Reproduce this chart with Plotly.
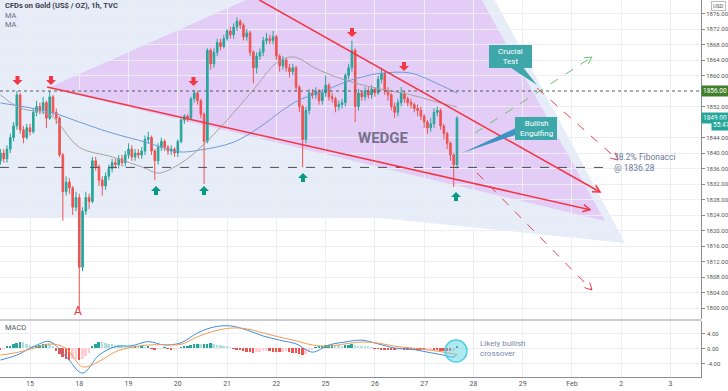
import math
import plotly.graph_objects as go

# ---------------- data ----------------
day_labels = ["15", "18", "19", "20", "21", "22", "25", "26", "27", "28", "29", "Feb", "2", "3"]
candles_per_day = 15
start_day = -0.6
first_open = 1838.0

closes = [1840, 1838.5, 1841, 1844, 1847, 1855, 1846, 1844, 1846.5, 1845.5,
          1850.5, 1852, 1851, 1853, 1849, 1854.5, 1850.5, 1849, 1839.5, 1830,
          1832.5, 1831, 1826, 1828.5, 1810.5, 1825, 1828.5, 1827.5, 1838, 1836.5,
          1833, 1831.5, 1834, 1836, 1837.5, 1837, 1838.5, 1837.5, 1839.5, 1841,
          1839, 1840, 1839.5, 1840.5, 1843.5, 1844, 1840.5, 1838, 1841.5, 1843,
          1841.5, 1840.5, 1841, 1840, 1843, 1848.5, 1849.5, 1849, 1854, 1855.5,
          1853.5, 1850, 1843, 1866.5, 1863, 1866, 1868.5, 1867.5, 1869.5, 1871.5,
          1870.5, 1872.5, 1874, 1873, 1870, 1871, 1866, 1862, 1865, 1866,
          1869, 1869.5, 1869, 1870, 1865, 1862.5, 1864, 1862, 1861, 1862,
          1857, 1852, 1843.5, 1851, 1855.5, 1855, 1856, 1853.5, 1855.5, 1857.5,
          1854.5, 1854, 1852, 1852.5, 1853, 1860, 1862, 1866.5, 1852, 1855.5,
          1854.5, 1856, 1855, 1856.5, 1855.5, 1859, 1860.5, 1856, 1855, 1852,
          1850.5, 1853, 1855.5, 1854, 1853, 1852.5, 1851.5, 1851, 1849.5, 1848,
          1846.5, 1847.5, 1850.5, 1851, 1847, 1845, 1842.5, 1839.5, 1837, 1849]

highs = [1841, 1841, 1842, 1845, 1848, 1856, 1855.5, 1847, 1847.5, 1847.5,
         1851.5, 1853.5, 1853, 1854.5, 1853.5, 1856, 1855, 1851.5, 1849.5, 1840,
         1834, 1833.5, 1831.5, 1830, 1829.5, 1826, 1830, 1829.5, 1839, 1839,
         1837, 1834, 1835, 1837, 1838.5, 1838.5, 1839.5, 1839.5, 1840.5, 1842.5,
         1842, 1841, 1841, 1841.5, 1844.5, 1845.5, 1844.5, 1841, 1842.5, 1844,
         1843.5, 1842, 1842, 1841.5, 1843.5, 1849, 1850, 1850, 1854.5, 1856.3,
         1856, 1854, 1850.5, 1867, 1867, 1867, 1869.5, 1869.5, 1870.5, 1872,
         1872.5, 1873.5, 1875, 1874.5, 1873.5, 1872, 1871.5, 1866.5, 1866, 1867,
         1870, 1871, 1870.5, 1871.5, 1870.5, 1865.5, 1865, 1864.5, 1863, 1863,
         1862.5, 1857.5, 1852.5, 1852, 1856.5, 1856.5, 1857, 1856.5, 1856.5, 1860,
         1858, 1855.5, 1854.5, 1853.5, 1854, 1860.5, 1863, 1869, 1867, 1856.5,
         1856, 1857, 1857, 1857.5, 1857, 1860, 1862, 1861, 1857, 1855.5,
         1853, 1854, 1857, 1856, 1854.5, 1854, 1853, 1852.5, 1852, 1850,
         1848.5, 1849, 1851.5, 1852, 1851.5, 1847.5, 1845.5, 1843, 1840, 1849.5]

lows = [1837, 1837.5, 1837.5, 1840, 1843, 1846, 1845, 1842.5, 1843.5, 1844.5,
        1845, 1849.5, 1850, 1850, 1846.5, 1848.5, 1849.5, 1847.5, 1839, 1822.5,
        1829, 1829.5, 1824, 1825, 1799.5, 1809.5, 1824, 1825.5, 1827, 1835.5,
        1831.5, 1829, 1830.5, 1833, 1835, 1836, 1836, 1836.5, 1836.5, 1838.5,
        1838, 1838, 1838.5, 1838.5, 1839.5, 1842.5, 1839.5, 1833, 1837, 1840.5,
        1840.5, 1839.5, 1839.5, 1839, 1839, 1842.5, 1847.5, 1848, 1848.5, 1853,
        1852.5, 1849, 1832, 1842.5, 1861.5, 1862, 1865, 1866.5, 1867, 1869,
        1869.5, 1869.5, 1871.5, 1872, 1869, 1869, 1865, 1858, 1860.5, 1864,
        1865, 1868, 1868, 1868, 1864, 1861, 1861.5, 1861, 1859.5, 1860,
        1856, 1850.5, 1836.3, 1842.5, 1850, 1854, 1854, 1852.5, 1852.5, 1854.5,
        1853.5, 1853, 1850.5, 1851, 1851.5, 1852, 1859, 1861, 1848, 1851,
        1853.5, 1853.5, 1854, 1854, 1854.5, 1855, 1858, 1855, 1853.5, 1851,
        1849, 1849.5, 1852, 1853, 1852, 1851.5, 1850.5, 1849.5, 1848.5, 1846.5,
        1845, 1845.5, 1846.5, 1849.5, 1846, 1843.5, 1841, 1838, 1831.2, 1836]

blue_ma_idx = [0, 15, 24, 33, 45, 54, 61, 71, 79, 86, 91, 97, 105, 110, 116, 125, 134, 139]
blue_ma_val = [1852.9, 1850.6, 1848.0, 1845.4, 1842.6, 1840.3, 1840.8, 1842.8, 1846.7,
               1851.1, 1853.7, 1855.5, 1858.3, 1859.6, 1860.6, 1860.6, 1857.5, 1855.5]

gray_ma_idx = [0, 6, 15, 24, 34, 44, 48, 55, 61, 69, 77, 84, 89, 97, 105, 114, 125, 134, 139]
gray_ma_val = [1855.0, 1851.6, 1849.8, 1841.5, 1839.0, 1836.1, 1834.8, 1837.4, 1841.5,
               1848.5, 1856.3, 1863.2, 1864.8, 1861.4, 1858.8, 1856.8, 1855.0, 1852.9, 1851.9]

macd_idx = [0, 5, 10, 15, 20, 25, 30, 35, 40, 45, 50, 55, 60, 65, 70, 75, 80, 85, 90,
            95, 100, 105, 110, 115, 120, 125, 130, 135, 138, 139]
macd_line = [-3.2, -1.9, 0.35, 1.7, -2.3, -6.7, -1.9, 0.35, 0.6, 1.7, 0.8, 1.4, 4.0, 5.6,
             5.9, 4.8, 3.2, 2.1, 1.1, -1.1, 0.8, 1.6, 2.1, 1.1, 0.0, -0.3, -1.1, -1.9, -2.4, -1.6]
signal_line = [-1.9, -1.2, -0.1, 1.1, -0.1, -5.0, -3.6, -1.0, 0.2, 0.8, 0.9, 1.0, 3.0, 4.5,
               5.3, 5.1, 4.0, 2.9, 1.9, 0.8, 0.5, 1.1, 1.6, 1.3, 0.5, 0.0, -0.5, -1.1, -1.6, -1.7]
hist = [-0.4, -0.2,
        0.3, 0.6, 1.0, 1.3, 1.6, 1.5, 1.2, 0.9, 0.6,
        0.6, 0.8, 1.0, 1.1, 1.0, 0.6,
        -0.8, -1.6, -2.4,
        -2.8, -3.2, -3.0, -2.8, -3.2, -3.0, -2.2,
        -1.2, 0.6,
        1.2, 1.6, 1.5,
        1.3, 1.1, 1.0, 0.9, 0.8, 0.7, 0.6, 0.5, 0.4, 0.4, 0.3, 0.3,
        0.2, 0.3, -0.2, -0.3, -0.2, -0.1, 0.1, -0.2, -0.3, -0.2, -0.1, 0.2,
        0.4, 0.6, 0.8, 1.0, 1.1, 1.0,
        1.0, 1.2, 1.3, 1.1, 0.9, 0.7, 0.5, 0.4, 0.2,
        -0.2, -0.4, -0.6, -0.8, -1.0, -1.1, -1.2, -1.1, -1.0, -0.9,
        -0.8, -0.9, -1.0, -1.1, -1.1, -1.0, -0.9, -1.0, -1.2, -1.4, -1.6, -1.8,
        -1.5, -1.0, -0.5, 0.1, 0.4, 0.6, 0.7,
        0.8, 0.9, 0.8, 0.7, 0.6, 0.7, 0.9, 1.0, 0.8, 0.6, 0.5, 0.4, 0.3,
        0.1, -0.1, -0.2, -0.3, -0.4, -0.4, -0.5, -0.5, -0.4, -0.3, -0.3, -0.4, -0.4,
        -0.5, -0.5, -0.6, -0.6, -0.5, -0.4, -0.5, -0.6, -0.7, -0.8,
        -0.9, -0.9, -0.8, 0.3]

price_ticks = [1800, 1804, 1808, 1812, 1816, 1820, 1824, 1828, 1832, 1836, 1840, 1844,
               1852, 1860, 1864, 1868, 1872, 1876]
macd_ticks = [-4, 0, 4]
macd_tick_text = ["-4.00", "0.00", "4.00"]
fib_level = 1836.28
resistance_level = 1856.00
last_price = 1849.00

# ---------------- geometry helpers (pixel -> axis units, for drawings) ----------------
W, H = 728, 391
ML, MR, MT, MB = 0, 27, 0, 14
PW, PH = W - ML - MR, H - MT - MB


def X(px):
    return (px - 30) / 49.27


def Y(py):
    return 1872 - (py - 29) / 3.875


def YM(py):
    return (348 - py) / 3.75


def PXp(px):
    return px / PW


def PYp(py):
    return (PH - py) / PH


def idx_x(i):
    return start_day + i / candles_per_day


FONT = "Roboto"
RED = "#f23645"
GREEN_ARW = "#089981"
TEAL = "#3ea7aa"

fig = go.Figure()

x_c = [idx_x(i) for i in range(len(closes))]
opens = [first_open] + closes[:-1]

fig.add_trace(go.Candlestick(
    x=x_c, open=opens, high=highs, low=lows, close=closes,
    increasing=dict(line=dict(color="#26a69a", width=1), fillcolor="#26a69a"),
    decreasing=dict(line=dict(color="#ef5350", width=1), fillcolor="#ef5350"),
    whiskerwidth=0, showlegend=False, hoverinfo="skip", xaxis="x", yaxis="y"))

fig.add_trace(go.Scatter(x=[idx_x(i) for i in blue_ma_idx], y=blue_ma_val, mode="lines",
                         line=dict(color="#6f9bd8", width=1, shape="spline"),
                         showlegend=False, hoverinfo="skip", xaxis="x", yaxis="y"))
fig.add_trace(go.Scatter(x=[idx_x(i) for i in gray_ma_idx], y=gray_ma_val, mode="lines",
                         line=dict(color="#a3a3a3", width=1, shape="spline"),
                         showlegend=False, hoverinfo="skip", xaxis="x", yaxis="y"))

hcols = []
for i, v in enumerate(hist):
    prev = hist[i - 1] if i > 0 else 0
    if v >= 0:
        hcols.append("#26a69a" if v >= prev else "#b2dfdb")
    else:
        hcols.append("#ef5350" if v <= prev else "#ffcdd2")

fig.add_trace(go.Bar(x=x_c, y=hist, marker=dict(color=hcols, line=dict(width=0)),
                     width=0.6 / candles_per_day, showlegend=False, hoverinfo="skip",
                     xaxis="x2", yaxis="y2"))
fig.add_trace(go.Scatter(x=[idx_x(i) for i in macd_idx], y=macd_line, mode="lines",
                         line=dict(color="#3d8fe0", width=1, shape="spline"),
                         showlegend=False, hoverinfo="skip", xaxis="x2", yaxis="y2"))
fig.add_trace(go.Scatter(x=[idx_x(i) for i in macd_idx], y=signal_line, mode="lines",
                         line=dict(color="#f59a4c", width=1, shape="spline"),
                         showlegend=False, hoverinfo="skip", xaxis="x2", yaxis="y2"))

shapes = []


def poly(pts, fill, ref=("x", "y"), layer="below", width=0):
    d = "M " + " L ".join(f"{X(a):.4f},{Y(b):.4f}" for a, b in pts) + " Z"
    shapes.append(dict(type="path", path=d, xref=ref[0], yref=ref[1], fillcolor=fill,
                       line=dict(color=fill, width=width), layer=layer))


def seg(p1, p2, color, width=1, dash="solid"):
    shapes.append(dict(type="line", x0=X(p1[0]), y0=Y(p1[1]), x1=X(p2[0]), y1=Y(p2[1]),
                       xref="x", yref="y", line=dict(color=color, width=width, dash=dash),
                       layer="above"))


def head(p1, p2, color, width=1, L=8, ang=28):
    dx, dy = p2[0] - p1[0], p2[1] - p1[1]
    n = math.hypot(dx, dy)
    ux, uy = dx / n, dy / n
    pts = []
    for s in (1, -1):
        a = math.radians(ang) * s
        rx = ux * math.cos(a) - uy * math.sin(a)
        ry = ux * math.sin(a) + uy * math.cos(a)
        pts.append((p2[0] - L * rx, p2[1] - L * ry))
    d = (f"M {X(pts[0][0]):.4f},{Y(pts[0][1]):.4f} L {X(p2[0]):.4f},{Y(p2[1]):.4f} "
         f"L {X(pts[1][0]):.4f},{Y(pts[1][1]):.4f}")
    shapes.append(dict(type="path", path=d, xref="x", yref="y",
                       line=dict(color=color, width=width), layer="above"))


# background regions
poly([(-5, -5), (492, -5), (625, 243), (380, 218), (-5, 218)], "rgba(175,192,236,0.30)")
poly([(48, 88), (252.6, -3), (480, -3), (605, 221)], "rgba(222,150,240,0.36)")

# fib and resistance level lines
shapes.append(dict(type="line", x0=X(0), x1=X(608), y0=fib_level, y1=fib_level, xref="x", yref="y",
                   line=dict(color="#4a4f5a", width=1, dash="dash"), layer="above"))
shapes.append(dict(type="line", x0=X(0), x1=X(701), y0=resistance_level, y1=resistance_level,
                   xref="x", yref="y", line=dict(color="#555a66", width=1, dash="dot"), layer="above"))

# wedge lines
seg((259.4, 0), (600, 192), RED, 1.5)
head((259.4, 0), (600, 192), RED, 1.5)
seg((47, 87), (590, 209.7), RED, 1.5)
head((47, 87), (590, 209.7), RED, 1.5)

# projection dashed arrows
seg((475, 133), (592, 57), "#6cc26c", 1, "dash")
head((475, 133), (592, 57), "#6cc26c", 1)
seg((537, 88), (618, 160), "#e8424f", 1, "dash")
head((537, 88), (618, 160), "#e8424f", 1)
seg((477, 173), (592, 290), "#e8424f", 1, "dash")
head((477, 173), (592, 290), "#e8424f", 1)


def arrow_down(cx, top, col):
    poly([(cx - 2, top), (cx + 2, top), (cx + 2, top + 4), (cx + 5, top + 4), (cx, top + 9),
          (cx - 5, top + 4), (cx - 2, top + 4)], col, layer="above")


def arrow_up(cx, top, col):
    poly([(cx, top), (cx + 5, top + 5), (cx + 2, top + 5), (cx + 2, top + 9), (cx - 2, top + 9),
          (cx - 2, top + 5), (cx - 5, top + 5)], col, layer="above")


for cxp, tp in [(17.5, 76), (51, 76), (193.5, 77), (352, 28), (404, 62)]:
    arrow_down(cxp, tp, RED)
for cxp, tp in [(156, 186), (204, 186), (303, 173), (456, 192)]:
    arrow_up(cxp, tp, GREEN_ARW)

# callouts
poly([(508, 66), (522, 66), (537, 85)], TEAL, layer="above")
poly([(489, 45), (532, 45), (532, 68), (489, 68)], TEAL, layer="above")
poly([(518, 127), (518, 134), (462, 153)], "#3f93c2", layer="above")
poly([(515, 117), (557, 117), (557, 140), (515, 140)], TEAL, layer="above")

shapes.append(dict(type="circle", xref="x2", yref="y2", x0=X(445), x1=X(467), y0=YM(362), y1=YM(340),
                   fillcolor="rgba(77,208,225,0.45)", line=dict(color="#4dd0e1", width=1.5),
                   layer="above"))

shapes.append(dict(type="line", xref="paper", yref="paper", x0=0, x1=1, y0=PYp(320), y1=PYp(320),
                   line=dict(color="#c9ccd4", width=2)))

ann = []


def txt(px, py, text, size=8, color="#333", xanchor="left", bold=False, align="left"):
    ann.append(dict(x=PXp(px), y=PYp(py), xref="paper", yref="paper",
                    text=(f"<b>{text}</b>" if bold else text),
                    showarrow=False, xanchor=xanchor, yanchor="middle", align=align,
                    font=dict(family=FONT, size=size, color=color)))


txt(3, 6, "CFDs on Gold (US$ / OZ), 1h, TVC", 7.5, "#3b3f4a", bold=True)
txt(3, 15, "MA", 7.5, "#6b7080")
txt(3, 24, "MA", 7.5, "#6b7080")
txt(3, 327, "MACD", 7.5, "#555a66")
txt(78, 311, "A", 12, RED, "center")
txt(383, 138, "WEDGE", 15, "#77708f", "center", bold=True)
txt(612, 162, "38.2% Fibonacci<br>@ 1836.28", 8.5, "#6d7a99")
txt(510.5, 56.5, "Crucial<br>Test", 8, "#ffffff", "center", align="center")
txt(536, 128.5, "Bullish<br>Engulfing", 8, "#ffffff", "center", align="center")
txt(478, 348, "Likely bullish<br>crossover", 8, "#7b88a6")

# MACD axis labels beside the axis ticks
for v, t in zip(macd_ticks, macd_tick_text):
    ann.append(dict(x=PXp(705), y=PYp(348 - v * 3.75), xref="paper", yref="paper", text=t,
                    showarrow=False, xanchor="left", yanchor="middle",
                    font=dict(family=FONT, size=6, color="#555")))

ann.append(dict(x=1, y=resistance_level, xref="paper", yref="y", text="1856.00", showarrow=False,
                xanchor="left", yanchor="middle", bgcolor="#3f7f2a", borderpad=1,
                font=dict(family=FONT, size=6.5, color="#ffffff")))
ann.append(dict(x=1, y=last_price, xref="paper", yref="y", text="1849.00", showarrow=False,
                xanchor="left", yanchor="middle", bgcolor="#26a69a", borderpad=1,
                font=dict(family=FONT, size=6.5, color="#ffffff")))
ann.append(dict(x=PXp(711), y=Y(125), xref="paper", yref="y", text="55:47", showarrow=False,
                xanchor="left", yanchor="middle", bgcolor="#26a69a", borderpad=1,
                font=dict(family=FONT, size=6.5, color="#ffffff")))
ann.append(dict(x=PXp(711), y=Y(6), xref="paper", yref="y", text="USD", showarrow=False,
                xanchor="left", yanchor="middle", bordercolor="#bbbbbb", borderwidth=1, borderpad=1,
                bgcolor="#ffffff", font=dict(family=FONT, size=5.5, color="#555")))

grid = "#eceef3"
fig.update_layout(
    width=W, height=H, margin=dict(l=ML, r=MR, t=MT, b=MB),
    paper_bgcolor="#ffffff", plot_bgcolor="#ffffff",
    shapes=shapes, annotations=ann, bargap=0, showlegend=False,
    font=dict(family=FONT, size=7, color="#4a4e59"),
    xaxis=dict(domain=[0, 1], range=[X(0), X(701)], anchor="y", showticklabels=False,
               tickvals=list(range(len(day_labels))), showgrid=True, gridcolor=grid,
               rangeslider=dict(visible=False), zeroline=False, showline=False),
    xaxis2=dict(domain=[0, 1], range=[X(0), X(701)], anchor="y2", matches="x",
                tickvals=list(range(len(day_labels))), ticktext=day_labels, showgrid=True,
                gridcolor=grid, zeroline=False, showline=True, linecolor="#8a8d96",
                tickfont=dict(size=7, color="#555"), ticks=""),
    yaxis=dict(domain=[PYp(319), 1], range=[Y(319), Y(0)], side="right", anchor="x",
               tickvals=price_ticks, tickformat=".2f", showgrid=True, gridcolor=grid,
               zeroline=False, showline=True, linecolor="#8a8d96", ticks="outside",
               ticklen=3, tickcolor="#8a8d96", tickfont=dict(size=6, color="#555")),
    yaxis2=dict(domain=[0, PYp(321)], range=[YM(377), YM(321)], side="right", anchor="x2",
                tickvals=macd_ticks, showticklabels=False, showgrid=True, gridcolor=grid,
                zeroline=False, showline=True, linecolor="#8a8d96", ticks="outside",
                ticklen=3, tickcolor="#8a8d96"),
)

fig.write_html("out.html", config={"displayModeBar": False},
               post_script="document.body.style.margin='0';document.body.style.padding='0';")
